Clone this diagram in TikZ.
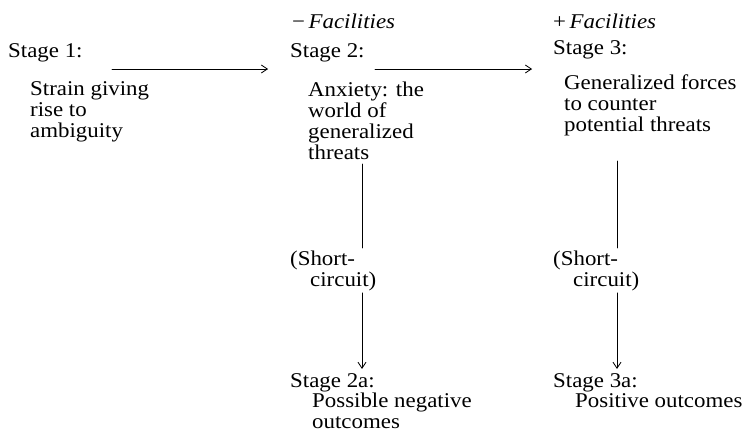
\documentclass[tikz,border=0pt]{standalone}
\usepackage{fontspec}
\setmainfont[FakeStretch=1.09]{Liberation Serif}
\usetikzlibrary{arrows.meta}
\begin{document}
\begin{tikzpicture}[x=1pt,y=-1pt,line join=round,line cap=round,
  txt/.style={anchor=base west,inner sep=0pt,align=left,
    font=\fontsize{21}{21}\selectfont},
  body/.style={txt,anchor=north west},
  fac/.style={txt,font=\fontsize{21}{21}\selectfont\itshape},
  arr/.style={line width=0.8pt,-{Straight Barb[length=6pt,width=8pt]}},
  seg/.style={line width=0.8pt}]
\useasboundingbox (0,0) rectangle (749,433);
%========stage 1
\node[txt] (s1) at (8,58) {Stage 1:};
\node[body] (t1) at (30,81) {Strain giving\\rise to\\ambiguity};
%========stage 2, without facilities
\node[fac] (f2) at (292,29) {{\upshape −}\,Facilities};
\node[txt] (s2) at (290,58) {Stage 2:};
\node[body] (t2) at (308,82) {Anxiety: the\\world of\\generalized\\threats};
%========stage 3, with facilities
\node[fac] (f3) at (553,29) {{\upshape +}\,Facilities};
\node[txt] (s3) at (553,55) {Stage 3:};
\node[body] (t3) at (564,75) {Generalized forces\\to counter\\potential threats};
%========short circuits
\node[body] (k2) at (290,251) {(Short-\\\hspace*{20pt}circuit)};
\node[body] (k3) at (553,251) {(Short-\\\hspace*{20pt}circuit)};
%========outcomes
\node[txt] (s2a) at (290,387) {Stage 2a:};
\node[body] (t2a) at (312,393) {Possible negative\\outcomes};
\node[txt] (s3a) at (553,387) {Stage 3a:};
\node[body] (t3a) at (575,393) {Positive outcomes};
%========connectors
\path
(112,69) coordinate (h1)
(268,69) coordinate (h1e)
(375,69) coordinate (h2)
(532,69) coordinate (h2e)
(362,164) coordinate (v2)
(617,161) coordinate (v3)
;
\draw[arr] (h1)--(h1e);
\draw[arr] (h2)--(h2e);
\draw[seg,shorten >=3pt] (v2)--(v2 |- k2.north);
\draw[seg,shorten >=3pt] (v3)--(v3 |- k3.north);
\draw[arr,shorten <=1.5pt,shorten >=4pt] (v2 |- k2.south)--(v2 |- s2a.north);
\draw[arr,shorten <=1.5pt,shorten >=4pt] (v3 |- k3.south)--(v3 |- s3a.north);
\end{tikzpicture}
\end{document}
